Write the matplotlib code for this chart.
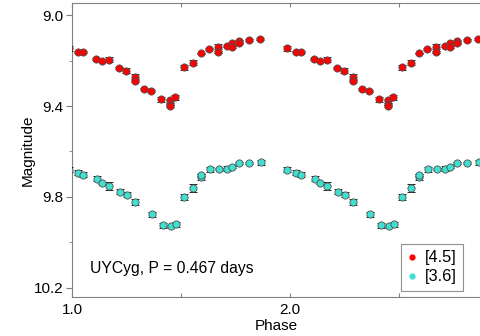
import numpy as np
import matplotlib.pyplot as plt
from matplotlib.lines import Line2D
from matplotlib.ticker import FixedLocator

plt.rcParams['font.family'] = ['Liberation Sans', 'DejaVu Sans']

# Folded light curve of UY Cyg, one cycle of phases in [0, 1)
phase_45 = [0.988, 0.026, 0.049, 0.110, 0.138, 0.168, 0.217, 0.248, 0.289, 0.288,
            0.330, 0.362, 0.410, 0.450, 0.450, 0.450, 0.474, 0.514, 0.556, 0.590,
            0.630, 0.671, 0.671, 0.709, 0.735, 0.735, 0.767, 0.767, 0.812, 0.862]
mag_45 = [9.147, 9.161, 9.161, 9.195, 9.201, 9.196, 9.232, 9.246, 9.271, 9.289,
          9.325, 9.333, 9.371, 9.374, 9.390, 9.400, 9.362, 9.230, 9.210, 9.169,
          9.151, 9.139, 9.164, 9.135, 9.125, 9.139, 9.113, 9.125, 9.110, 9.107]
err_45 = [0.011, 0.004, 0.004, 0.004, 0.004, 0.011, 0.004, 0.011, 0.011, 0.004,
          0.004, 0.004, 0.011, 0.004, 0.004, 0.004, 0.011, 0.011, 0.011, 0.004,
          0.004, 0.011, 0.004, 0.004, 0.004, 0.004, 0.004, 0.004, 0.004, 0.004]

phase_36 = [0.988, 0.026, 0.049, 0.113, 0.138, 0.170, 0.220, 0.251, 0.290, 0.366,
            0.416, 0.453, 0.477, 0.515, 0.557, 0.590, 0.590, 0.635, 0.673, 0.712,
            0.735, 0.767, 0.812, 0.865]
mag_36 = [9.681, 9.693, 9.703, 9.721, 9.737, 9.752, 9.777, 9.790, 9.823, 9.876,
          9.925, 9.927, 9.919, 9.799, 9.762, 9.714, 9.703, 9.678, 9.677, 9.677,
          9.667, 9.652, 9.650, 9.648]
err_36 = [0.011, 0.011, 0.011, 0.011, 0.004, 0.016, 0.011, 0.011, 0.013, 0.011,
          0.011, 0.004, 0.011, 0.013, 0.017, 0.013, 0.004, 0.011, 0.004, 0.011,
          0.004, 0.004, 0.004, 0.011]

cycles = [0, 1, 2]

fig = plt.figure(figsize=(4.81, 3.36), dpi=100)
ax = fig.add_axes([72 / 481, 39 / 336, 1 - 72 / 481, 294 / 336])

def plot_band(phase, mag, err, color):
    phase = np.asarray(phase)
    for c in cycles:
        ax.errorbar(phase + c, mag, yerr=err, fmt='o', ms=5.2, mfc=color,
                    mec='#505050', mew=0.6, ecolor='black', elinewidth=0.8,
                    capsize=3.2, capthick=0.9, zorder=3)

plot_band(phase_45, mag_45, err_45, '#ff0000')
plot_band(phase_36, mag_36, err_36, '#40e0d0')

ax.set_xlim(1.0, 2.876)
ax.set_ylim(10.24, 8.947)

ax.set_xticks([1.0, 1.5, 2.0, 2.5])
ax.set_xticklabels(['1.0', '', '2.0', ''])
ax.yaxis.set_major_locator(FixedLocator([9.0, 9.4, 9.8, 10.2]))
ax.yaxis.set_minor_locator(FixedLocator([9.2, 9.6, 10.0]))
ax.set_yticklabels(['9.0', '9.4', '9.8', '10.2'])

ax.tick_params(axis='x', which='both', direction='in', top=True, bottom=True,
               length=3, color='#808080', labelsize=11, pad=4)
ax.tick_params(axis='y', which='major', direction='out', length=4,
               color='#808080', labelsize=11, pad=2)
ax.tick_params(axis='y', which='minor', direction='out', length=2,
               color='#808080')

for side in ['left', 'top', 'bottom']:
    ax.spines[side].set_color('#808080')
ax.spines['right'].set_visible(False)

ax.set_xlabel('Phase', fontsize=11, labelpad=2)
ax.set_ylabel('Magnitude', fontsize=11)
ax.yaxis.set_label_coords(-0.09, 0.5)

ax.text(90, 336 - 268, 'UYCyg, P = 0.467 days', transform=None,
        fontsize=11.3, va='center', ha='left')

handles = [
    Line2D([], [], ls='none', marker='o', ms=3.5, mfc='#ff0000', mec='#ff0000'),
    Line2D([], [], ls='none', marker='o', ms=3.5, mfc='#40e0d0', mec='#40e0d0'),
]
leg = ax.legend(handles, ['[4.5]', '[3.6]'], loc='lower right',
                bbox_to_anchor=((463 - 72) / 409, 6 / 294), borderaxespad=0,
                fontsize=11.8, fancybox=False, framealpha=1,
                edgecolor='#909090', handlelength=0.6, handletextpad=0.45,
                borderpad=0.4, labelspacing=0.25)
leg.get_frame().set_linewidth(0.8)

fig.savefig('out.png', dpi=100)
